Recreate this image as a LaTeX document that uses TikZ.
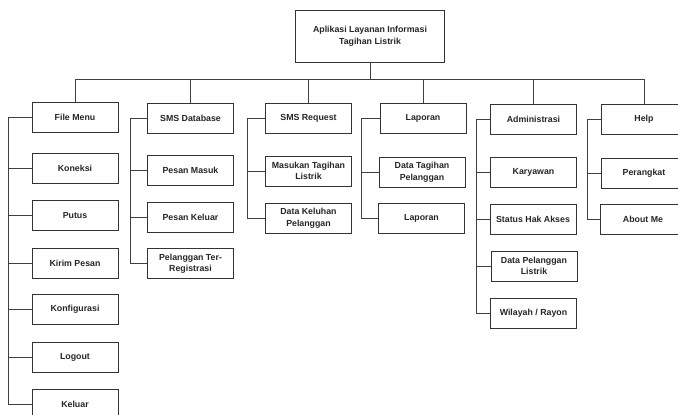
\documentclass[tikz,border=0pt]{standalone}
\usepackage{fontspec}
\setmainfont{Liberation Sans}
\begin{document}
\begin{tikzpicture}[x=1pt,y=-1pt,
  line width=0.9pt,
  menubox/.style={draw=black!80, fill=white, minimum width=86pt, minimum height=30pt,
    inner sep=1pt, align=center, font=\bfseries\fontsize{8.8}{11.5}\selectfont, text=black!85},
  link/.style={draw=black!75, line width=0.8pt}]
\useasboundingbox (0,0) rectangle (678,415);
\clip (0,0) rectangle (678,415);
\fill[white] (0,0) rectangle (678,415);

% root
\node[menubox, minimum width=149pt, minimum height=52pt] (root) at (370,36)
  {Aplikasi Layanan Informasi\\Tagihan Listrik};
\coordinate (busy) at (0,79);

% File Menu column
\node[menubox] (fm) at (75,117) {File Menu};
\node[menubox] (fm1) at (75,168) {Koneksi};
\node[menubox] (fm2) at (75,215.5) {Putus};
\node[menubox] (fm3) at (75,263) {Kirim Pesan};
\node[menubox] (fm4) at (75,309) {Konfigurasi};
\node[menubox] (fm5) at (75,357) {Logout};
\node[menubox] (fm6) at (75,404) {Keluar};
\coordinate (fmx) at (8,0);

% SMS Database column
\node[menubox] (db) at (190.5,118) {SMS Database};
\node[menubox] (db1) at (190.5,170.5) {Pesan Masuk};
\node[menubox] (db2) at (190.5,217.5) {Pesan Keluar};
\node[menubox] (db3) at (190.5,263.5) {Pelanggan Ter-\\Registrasi};
\coordinate (dbx) at (130,0);

% SMS Request column
\node[menubox] (rq) at (308.5,118) {SMS Request};
\node[menubox] (rq1) at (308.5,171) {Masukan Tagihan\\Listrik};
\node[menubox] (rq2) at (308.5,218) {Data Keluhan\\Pelanggan};
\coordinate (rqx) at (247,0);

% Laporan column
\node[menubox] (lp) at (423,118.5) {Laporan};
\node[menubox] (lp1) at (422,172) {Data Tagihan\\Pelanggan};
\node[menubox] (lp2) at (421.5,218.5) {Laporan};
\coordinate (lpx) at (361,0);

% Administrasi column
\node[menubox] (ad) at (533.5,119.5) {Administrasi};
\node[menubox] (ad1) at (533.5,172) {Karyawan};
\node[menubox] (ad2) at (533,219) {Status Hak Akses};
\node[menubox] (ad3) at (534,266) {Data Pelanggan\\Listrik};
\node[menubox] (ad4) at (533.5,313) {Wilayah / Rayon};
\coordinate (adx) at (476,0);

% Help column
\node[menubox] (hp) at (644,119) {Help};
\node[menubox] (hp1) at (644,173) {Perangkat};
\node[menubox] (hp2) at (643,219.5) {About Me};
\coordinate (hpx) at (587,0);

% top-level bus
\draw[link] (root.south) -- (root.south |- busy);
\draw[link] (fm.north) -- (fm.north |- busy) -- (hp.north |- busy) -- (hp.north);
\foreach \n in {db,rq,lp,ad}
  \draw[link] (\n.north) -- (\n.north |- busy);

% column spines
\draw[link] (fm.west) -| (fmx |- fm6.west) -- (fm6.west);
\foreach \n in {fm1,fm2,fm3,fm4,fm5} \draw[link] (\n.west) -- (\n.west -| fmx);
\draw[link] (db.west) -| (dbx |- db3.west) -- (db3.west);
\foreach \n in {db1,db2} \draw[link] (\n.west) -- (\n.west -| dbx);
\draw[link] (rq.west) -| (rqx |- rq2.west) -- (rq2.west);
\draw[link] (rq1.west) -- (rq1.west -| rqx);
\draw[link] (lp.west) -| (lpx |- lp2.west) -- (lp2.west);
\draw[link] (lp1.west) -- (lp1.west -| lpx);
\draw[link] (ad.west) -| (adx |- ad4.west) -- (ad4.west);
\foreach \n in {ad1,ad2,ad3} \draw[link] (\n.west) -- (\n.west -| adx);
\draw[link] (hp.west) -| (hpx |- hp2.west) -- (hp2.west);
\draw[link] (hp1.west) -- (hp1.west -| hpx);
\end{tikzpicture}
\end{document}
